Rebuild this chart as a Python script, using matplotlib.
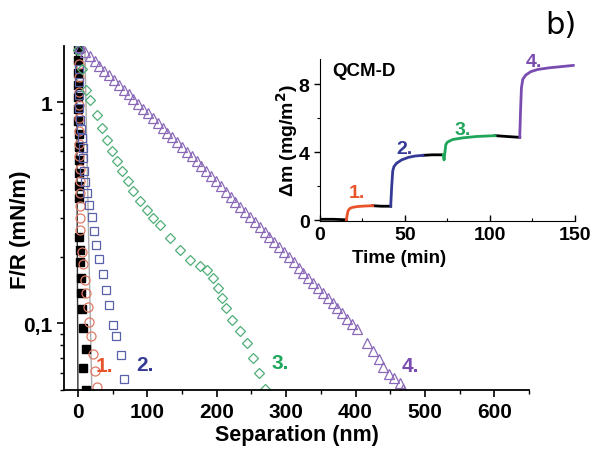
import matplotlib
matplotlib.use('Agg')
import matplotlib.pyplot as plt
from matplotlib.ticker import FixedLocator, MultipleLocator, NullFormatter, FuncFormatter

plt.rcParams['font.family'] = ['Liberation Sans', 'DejaVu Sans']
plt.rcParams['font.weight'] = 'bold'

# -----------------------------------------------------------------------------
# data: force curves, F/R (mN/m) vs separation (nm)

sep_0 = [0, 0, 0, 0, 0, 0.5, 0.5, 1, 1, 1, 1, 1, 1, 2, 3, 3, 4, 5, 6, 8, 11]
fr_0 = [1.75, 1.55, 1.36, 1.2, 1.06, 0.93, 0.82, 0.72, 0.63, 0.55, 0.48, 0.42, 0.37, 0.245, 0.216, 0.19, 0.161,
        0.137, 0.116, 0.095, 0.077]
sep_0 = sep_0 + [8, 11]
fr_0 = fr_0 + [0.063, 0.05]

sep_1 = [1, 1, 1, 1.5, 1.5, 2, 2, 2, 2, 2.5, 2.5, 3, 3, 3, 2.9, 5.8, 7.7, 10.1, 11.5, 14, 16.3, 18.3, 22.1, 24.5, 27.8]
fr_1 = [1.75, 1.5, 1.3, 1.12, 0.97, 0.85, 0.74, 0.65, 0.57, 0.5, 0.44, 0.39, 0.34, 0.30, 0.266, 0.211, 0.185,
        0.158, 0.138, 0.119, 0.102, 0.088, 0.073, 0.061, 0.0515]

sep_2 = [2, 1, 1, 1, 1.5, 3, 4.3, 5.3, 6.7, 7.7, 8.7, 10, 12.5, 16.3, 19.8, 23, 26.5, 30.7, 35.5, 40.4, 44.3,
         50, 54.8, 61.6, 66.4]
fr_2 = [1.75, 1.42, 1.24, 1.08, 0.94, 0.83, 0.76, 0.69, 0.62, 0.56, 0.49, 0.436, 0.389, 0.343, 0.303, 0.263,
        0.227, 0.195, 0.167, 0.142, 0.121, 0.098, 0.088, 0.072, 0.056]

sep_3 = [0, 5.3, 11.5, 17.3, 27, 34.2, 41.4, 48.6, 55.8, 63, 72.6, 79.8, 89.4, 99.1, 108.6, 118.3, 132.7, 147.1,
         161.5, 176, 186.1, 194.7, 201.9, 207.7, 213.5, 222.1, 233.7, 243.3, 252, 261.5, 269.7]
fr_3 = [1.72, 1.42, 1.136, 1.024, 0.877, 0.764, 0.676, 0.6, 0.541, 0.488, 0.439, 0.396, 0.357, 0.327, 0.3, 0.28,
        0.244, 0.215, 0.194, 0.182, 0.175, 0.161, 0.145, 0.131, 0.118, 0.104, 0.0927, 0.0812, 0.0698, 0.0596, 0.0506]

sep_4 = [3, 10, 17, 24, 31, 38, 45, 52, 59, 66, 73, 80, 87, 94, 101, 108, 115, 122, 129, 136, 143, 150, 157, 164,
         171, 178, 185, 192, 199, 206, 213, 220, 227, 234, 241, 248, 255, 262, 269, 276, 283, 290, 297, 304, 311,
         318, 325, 332, 339, 346, 353, 360, 367, 374, 381, 388, 395, 402, 416.4, 425.1, 433.2, 439.5, 447.6,
         454.8, 463.4, 468.8]
fr_4 = [1.786, 1.7, 1.618, 1.539, 1.465, 1.394, 1.326, 1.262, 1.201, 1.143, 1.087, 1.035, 0.985, 0.937, 0.892,
        0.848, 0.807, 0.768, 0.731, 0.696, 0.662, 0.63, 0.599, 0.57, 0.543, 0.515, 0.488, 0.463, 0.439, 0.417,
        0.395, 0.375, 0.356, 0.337, 0.32, 0.303, 0.288, 0.273, 0.259, 0.246, 0.233, 0.221, 0.21, 0.199, 0.189,
        0.179, 0.17, 0.161, 0.153, 0.145, 0.137, 0.13, 0.124, 0.117, 0.111, 0.105, 0.0999, 0.0948, 0.082, 0.0753,
        0.069, 0.0638, 0.0591, 0.0567, 0.0537, 0.0506]

# guide lines
line_a_x = [-2, 0]
line_a_y = [1.8, 0.05]
line_b_x = [10, 16, 20]
line_b_y = [1.8, 0.2, 0.05]

# -----------------------------------------------------------------------------
# data: QCM-D, mass vs time

t_k0 = [0, 8, 15.5]
m_k0 = [0.05, 0.05, 0.02]
t_1 = [15.5, 16, 16.5, 17.5, 19, 22, 26, 31]
m_1 = [0.0, 0.3, 0.55, 0.68, 0.75, 0.8, 0.83, 0.85]
t_k1 = [31, 36, 41.6]
m_k1 = [0.85, 0.82, 0.82]
t_2 = [41.6, 42.2, 42.8, 43.5, 45, 48, 52, 56, 60.6]
m_2 = [0.82, 2.0, 2.9, 3.15, 3.35, 3.55, 3.7, 3.78, 3.82]
t_k2 = [60.6, 66, 72.5]
m_k2 = [3.82, 3.85, 3.85]
t_3 = [72.5, 73, 73.5, 74, 75, 78, 84, 92, 103]
m_3 = [3.85, 3.55, 4.0, 4.45, 4.6, 4.75, 4.85, 4.93, 4.98]
t_k3 = [103, 110, 117.5]
m_k3 = [4.98, 4.93, 4.88]
t_4 = [117.5, 118, 118.5, 119.3, 121, 124, 128, 135, 142, 149]
m_4 = [4.88, 6.5, 7.8, 8.3, 8.55, 8.75, 8.88, 8.98, 9.05, 9.12]

# -----------------------------------------------------------------------------
# plot

c_red, c_blue, c_green, c_purple = '#e8532a', '#353a96', '#1fa65a', '#7a4cb0'

fig = plt.figure(figsize=(6, 4.56), dpi=100)
ax = fig.add_axes([0.1067, 0.1425, 0.775, 0.7544])

ax.plot(line_a_x, line_a_y, '-', color='#333333', lw=1.0)
ax.plot(line_b_x, line_b_y, '-', color='#aaaaaa', lw=1.0)
ax.plot(sep_0, fr_0, 's', color='black', ms=5.5, ls='none')
ax.plot(sep_1, fr_1, 'o', mfc='none', mec='#e07a66', mew=0.9, ms=6.5, ls='none')
ax.plot(sep_2, fr_2, 's', mfc='none', mec='#5860a8', mew=0.9, ms=6, ls='none')
ax.plot(sep_3, fr_3, 'D', mfc='none', mec='#4fae78', mew=0.9, ms=5.5, ls='none')
ax.plot(sep_4, fr_4, '^', mfc='none', mec='#8a68b8', mew=0.9, ms=7, ls='none')

ax.set_yscale('log')
ax.set_xlim(-20, 650)
ax.set_ylim(0.05, 1.8)
ax.xaxis.set_major_locator(MultipleLocator(100))
ax.xaxis.set_minor_locator(MultipleLocator(50))
ax.yaxis.set_major_locator(FixedLocator([0.1, 1]))
ax.yaxis.set_major_formatter(FuncFormatter(lambda v, p: '0,1' if v < 0.5 else '1'))
ax.yaxis.set_minor_locator(FixedLocator([0.05, 0.06, 0.07, 0.08, 0.09, 0.2, 0.3, 0.4, 0.5, 0.6, 0.7, 0.8, 0.9]))
ax.yaxis.set_minor_formatter(NullFormatter())
ax.tick_params(which='major', direction='out', length=5, width=1.2, labelsize=15)
ax.tick_params(which='minor', direction='out', length=3, width=1.0)
for s in ['top', 'right']:
    ax.spines[s].set_visible(False)
for s in ['left', 'bottom']:
    ax.spines[s].set_linewidth(1.3)

ax.set_xlabel('Separation (nm)', fontsize=15.5, fontweight='bold')
ax.xaxis.set_label_coords(0.501, -0.098)
ax.set_ylabel('F/R (mN/m)', fontsize=16, fontweight='bold')
ax.yaxis.set_label_coords(-0.07, 0.468)

ax.text(37.5, 0.0647, '1.', color=c_red, fontsize=15, fontweight='bold', ha='center', va='center')
ax.text(96.6, 0.0655, '2.', color=c_blue, fontsize=15, fontweight='bold', ha='center', va='center')
ax.text(291, 0.0667, '3.', color=c_green, fontsize=15, fontweight='bold', ha='center', va='center')
ax.text(479, 0.0647, '4.', color=c_purple, fontsize=15, fontweight='bold', ha='center', va='center')

fig.text(0.935, 0.945, 'b)', fontsize=22, fontweight='normal', family='DejaVu Sans',
         ha='center', va='center')

# inset
ins = fig.add_axes([0.5333, 0.5132, 0.425, 0.3553])
for t, m in [(t_k0, m_k0), (t_k1, m_k1), (t_k2, m_k2), (t_k3, m_k3)]:
    ins.plot(t, m, '-', color='black', lw=2)
ins.plot(t_1, m_1, '-', color=c_red, lw=2)
ins.plot(t_2, m_2, '-', color=c_blue, lw=2)
ins.plot(t_3, m_3, '-', color=c_green, lw=2)
ins.plot(t_4, m_4, '-', color=c_purple, lw=2)

ins.set_xlim(0, 150)
ins.set_ylim(-0.05, 9.5)
ins.xaxis.set_major_locator(MultipleLocator(50))
ins.xaxis.set_minor_locator(MultipleLocator(25))
ins.yaxis.set_major_locator(MultipleLocator(4))
ins.yaxis.set_minor_locator(MultipleLocator(2))
ins.tick_params(axis='x', which='both', direction='in')
ins.tick_params(axis='y', which='both', direction='out')
ins.tick_params(which='major', length=4, width=1.0, labelsize=14)
ins.tick_params(which='minor', length=2.5, width=0.8)
for s in ['top', 'right']:
    ins.spines[s].set_visible(False)

ins.set_xlabel('Time (min)', fontsize=13.5, fontweight='bold')
ins.xaxis.set_label_coords(0.31, -0.175)
ins.set_ylabel('Δm (mg/m$^\\mathbf{2}$)', fontsize=14, fontweight='bold')
ins.yaxis.set_label_coords(-0.078, 0.506)
ins.text(0.05, 0.926, 'QCM-D', transform=ins.transAxes, fontsize=13.5, fontweight='bold', va='center')

ins.text(22, 1.65, '1.', color=c_red, fontsize=14, fontweight='bold', ha='center', va='center')
ins.text(50, 4.2, '2.', color=c_blue, fontsize=14, fontweight='bold', ha='center', va='center')
ins.text(84, 5.35, '3.', color=c_green, fontsize=14, fontweight='bold', ha='center', va='center')
ins.text(126, 9.35, '4.', color=c_purple, fontsize=14, fontweight='bold', ha='center', va='center')

fig.savefig('out.png', dpi=100)
